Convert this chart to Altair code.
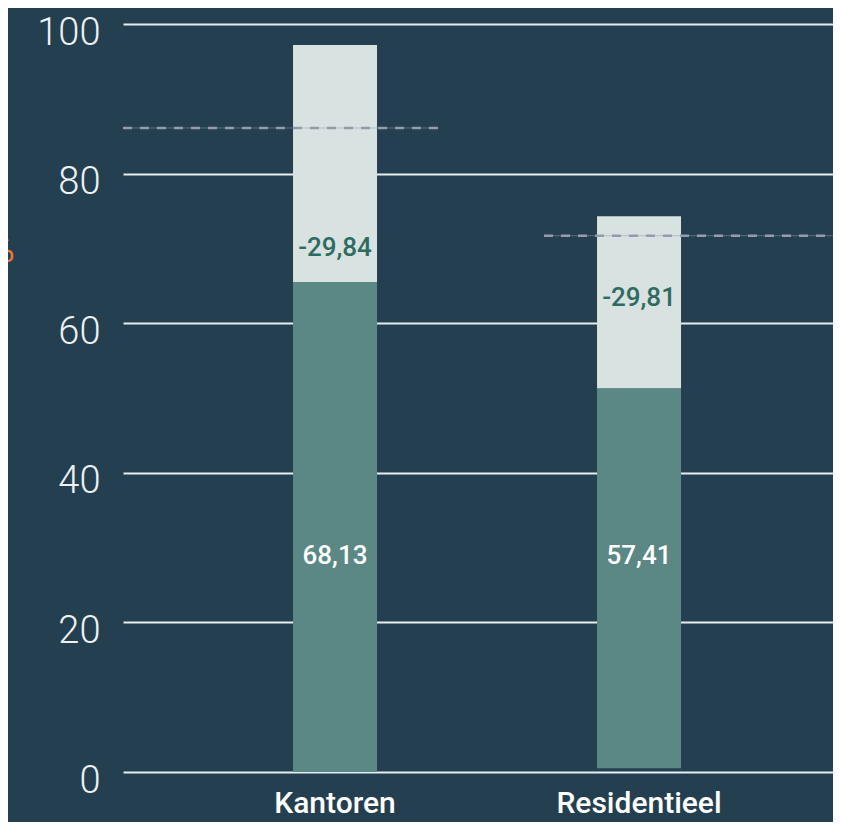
import altair as alt
import pandas as pd

categories = ["Kantoren", "Residentieel"]
bar_base = [0.0, 0.5]
lower_top = [65.5, 51.3]
upper_top = [97.2, 74.3]
lower_labels = ["68,13", "57,41"]
upper_labels = ["-29,84", "-29,81"]
lower_label_y = [28.9, 28.9]
upper_label_y = [70.0, 63.4]
target = [86.1, 71.7]
# reference-line span, in category-index units (0 = Kantoren, 1 = Residentieel)
target_from = [-0.6974, 0.6875]
target_to = [0.339, 1.6382]
y_ticks = [0, 20, 40, 60, 80, 100]

df = pd.DataFrame({
    "cat": categories,
    "base": bar_base,
    "lower_top": lower_top,
    "upper_top": upper_top,
    "lower_label": lower_labels,
    "upper_label": upper_labels,
    "lower_label_y": lower_label_y,
    "upper_label_y": upper_label_y,
    "target": target,
    "t_from": target_from,
    "t_to": target_to,
})

BG = "#244050"
TEAL = "#5b8884"
LIGHT = "#d7e2e1"
UPPER_TXT = "#2e6b62"
DASH = "#959bad"

xscale = alt.Scale(domain=categories, paddingInner=0.7237, paddingOuter=0.5296, align=0.528)
yscale = alt.Scale(domain=[0, 100], nice=False)
idx_scale = alt.Scale(domain=[-0.6974, 1.6382], nice=False, zero=False)

xaxis = alt.Axis(title=None, domain=False, ticks=False, grid=False, labelAngle=0,
                 labelFont="Roboto", labelFontSize=30, labelFontWeight=500,
                 labelColor="#ffffff", labelPadding=40, labelBaseline="alphabetic")
yaxis = alt.Axis(values=y_ticks, grid=True, gridColor="#e6edef", gridWidth=2,
                 domain=False, ticks=False, labelFont="Roboto", labelFontSize=38,
                 labelFontWeight=300, labelColor="#eef2f4", labelPadding=23,
                 labelOffset=9, title="%", titleColor="#e8793a", titleFont="Roboto",
                 titleFontSize=36, titleFontWeight=400, titleAngle=0, titleAlign="center",
                 titleBaseline="middle", titleX=-122, titleY=226)

base = alt.Chart(df)

lower = base.mark_bar(color=TEAL).encode(
    x=alt.X("cat:N", scale=xscale, axis=xaxis, sort=categories),
    y=alt.Y("base:Q", scale=yscale, axis=yaxis),
    y2="lower_top:Q",
)
upper = base.mark_bar(color=LIGHT).encode(
    x=alt.X("cat:N", scale=xscale, sort=categories),
    y=alt.Y("lower_top:Q", scale=yscale),
    y2="upper_top:Q",
)
lower_txt = base.mark_text(font="Roboto", fontSize=26, fontWeight=500, color="#ffffff",
                           baseline="middle").encode(
    x=alt.X("cat:N", scale=xscale, sort=categories),
    y=alt.Y("lower_label_y:Q", scale=yscale),
    text="lower_label:N",
)
upper_txt = base.mark_text(font="Roboto", fontSize=26, fontWeight=500, color=UPPER_TXT,
                           baseline="middle").encode(
    x=alt.X("cat:N", scale=xscale, sort=categories),
    y=alt.Y("upper_label_y:Q", scale=yscale),
    text="upper_label:N",
)
bars = alt.layer(lower, upper, lower_txt, upper_txt)

solid = base.mark_rule(color=DASH, strokeWidth=1, opacity=0.5).encode(
    x=alt.X("t_from:Q", scale=idx_scale, axis=None),
    x2="t_to:Q",
    y=alt.Y("target:Q", scale=yscale),
)
dashed = base.mark_rule(color=DASH, strokeWidth=2.5, strokeDash=[9, 8]).encode(
    x=alt.X("t_from:Q", scale=idx_scale, axis=None),
    x2="t_to:Q",
    y=alt.Y("target:Q", scale=yscale),
)
rules = alt.layer(solid, dashed)

chart = alt.layer(bars, rules).resolve_scale(x="independent").properties(
    width=710, height=748,
    autosize=alt.AutoSizeParams(type="none"),
    padding={"left": 115, "top": 16, "right": 0, "bottom": 50},
    background=BG,
).configure_view(stroke=None)

chart.save("out.html", embed_options={"renderer": "svg", "actions": False})
